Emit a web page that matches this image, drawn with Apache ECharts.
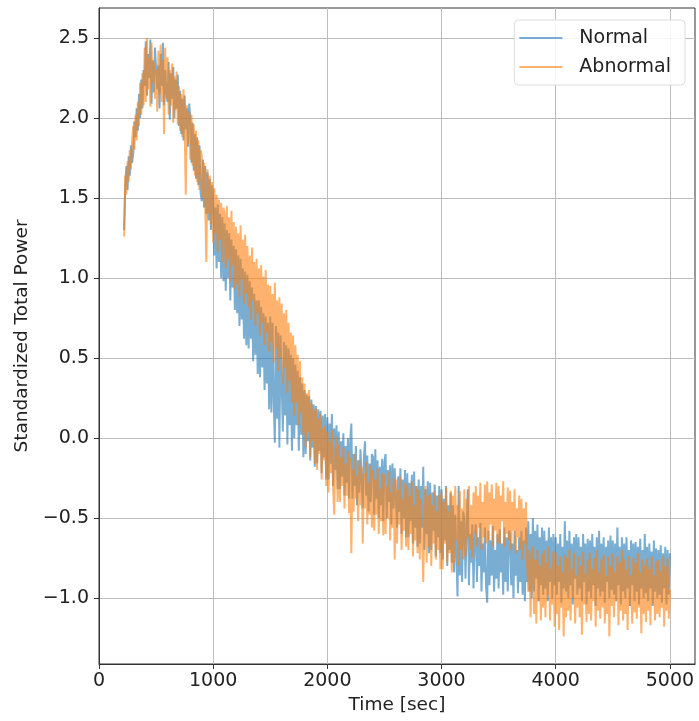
<!DOCTYPE html>
<html>
<head>
<meta charset="utf-8">
<script src="https://cdn.jsdelivr.net/npm/echarts@6/dist/echarts.min.js"></script>
<style>
  html, body { margin: 0; padding: 0; background: #fff; }
  #chart { width: 699px; height: 721px; }
</style>
</head>
<body>
<div id="chart"></div>
<script>
// Sampling of both recordings: first sample time and step, in seconds
const T0 = 220;
const DT = 10;

// Standardized total power, one value every DT seconds from T0 to 5000 s
const normalPower = [
  1.30, 1.58, 1.70, 1.55, 1.76, 1.64, 1.83, 1.72,
  1.78, 1.98, 1.88, 2.06, 1.92, 2.15, 2.00, 2.24, 2.06, 2.30,
  2.20, 2.48, 2.14, 2.40, 2.25, 2.49, 2.09, 2.36, 2.16, 2.44,
  2.45, 2.18, 2.33, 2.06, 2.40, 2.20, 2.47, 2.08, 2.30, 2.16,
  2.10, 2.35, 1.99, 2.28, 2.12, 2.32, 2.00, 2.24, 2.06, 2.27,
  1.95, 2.17, 1.90, 2.12, 1.86, 2.14, 1.93, 2.06, 1.82, 2.09,
  2.00, 1.72, 1.97, 1.67, 1.90, 1.62, 1.88, 1.58, 1.83, 1.53,
  1.48, 1.74, 1.44, 1.70, 1.40, 1.66, 1.36, 1.62, 1.30, 1.58,
  1.48, 1.14, 1.44, 1.06, 1.46, 1.10, 1.40, 1.00, 1.38, 0.98,
  1.34, 0.92, 1.30, 1.00, 1.28, 0.86, 1.24, 0.94, 1.20, 0.80,
  1.18, 0.78, 1.14, 0.70, 1.12, 0.74, 1.06, 0.62, 1.04, 0.58,
  1.02, 0.56, 0.98, 0.62, 0.94, 0.48, 0.90, 0.52, 0.86, 0.40,
  0.86, 0.38, 0.82, 0.44, 0.78, 0.30, 0.76, 0.34, 0.72, 0.18,
  0.76, 0.16, 0.72, 0.24, -0.03, 0.70, 0.12, 0.66, -0.06, 0.64,
  0.64, 0.04, 0.60, 0.14, 0.58, -0.04, 0.56, 0.08, 0.52, -0.08,
  0.50, 0.00, 0.46, 0.08, 0.42, -0.08, 0.38, 0.02, 0.34, -0.12,
  0.30, -0.10, 0.27, -0.02, 0.26, -0.14, 0.24, -0.06, 0.21, -0.18,
  0.20, -0.16, 0.18, -0.08, 0.17, -0.22, 0.14, -0.12, 0.15, -0.26,
  0.13, -0.26, 0.09, -0.16, 0.15, -0.30, 0.06, -0.20, 0.08, -0.32,
  0.04, -0.32, -0.02, -0.24, 0.03, -0.36, -0.05, -0.28, 0.00, -0.38,
  -0.02, 0.09, -0.38, -0.10, -0.30, -0.05, -0.42, -0.14, -0.34, -0.07,
  -0.08, -0.44, -0.12, -0.02, -0.36, -0.11, -0.46, -0.16, -0.40, -0.10,
  -0.12, -0.48, -0.07, -0.38, -0.14, -0.50, -0.18, -0.42, -0.13, -0.52,
  -0.15, -0.10, -0.50, -0.20, -0.40, -0.17, -0.54, -0.16, -0.44, -0.19,
  -0.18, -0.56, -0.24, -0.46, -0.19, -0.60, -0.26, -0.50, -0.20, -0.62,
  -0.22, -0.62, -0.28, -0.52, -0.23, -0.66, -0.21, -0.56, -0.30, -0.68,
  -0.26, -0.66, -0.30, -0.56, -0.18, -0.70, -0.32, -0.60, -0.27, -0.72,
  -0.28, -0.70, -0.34, -0.58, -0.29, -0.74, -0.36, -0.62, -0.30, -0.72,
  -0.32, -0.76, -0.38, -0.64, -0.30, -0.80, -0.42, -0.70, -0.34, -0.78,
  -0.42, -0.84, -0.48, -0.72, -0.99, -0.30, -0.86, -0.52, -0.90, -0.46,
  -0.52, -0.88, -0.56, -0.32, -0.92, -0.60, -0.78, -0.54, -0.94, -0.62,
  -0.54, -0.90, -0.62, -0.80, -0.53, -0.96, -0.66, -0.84, -0.56, -0.93,
  -1.03, -0.58, -0.92, -0.64, -0.86, -0.55, -0.96, -0.70, -0.88, -0.60,
  -0.94, -0.57, -0.84, -0.66, -0.98, -0.56, -0.90, -0.62, -0.96, -0.58,
  -0.60, -0.92, -0.66, -1.00, -0.58, -0.86, -0.70, -0.97, -0.62, -0.90,
  -0.58, -0.98, -0.64, -1.02, -0.56, -0.90, -0.52, -0.96, -0.60, -1.00,
  -0.50, -0.96, -0.58, -0.88, -0.54, -1.02, -0.62, -0.92, -0.56, -0.98,
  -0.58, -0.94, -0.64, -1.02, -0.56, -0.90, -0.62, -1.00, -0.60, -0.92,
  -0.62, -0.98, -0.66, -0.90, -0.60, -1.03, -0.68, -0.94, -0.52, -0.96,
  -0.64, -1.00, -0.58, -0.92, -0.66, -1.04, -0.62, -0.88, -0.60, -0.98,
  -0.62, -0.94, -0.68, -1.02, -0.60, -0.90, -0.66, -1.04, -0.63, -0.96,
  -0.64, -1.00, -0.60, -0.92, -0.68, -1.05, -0.62, -0.94, -0.58, -0.99,
  -0.66, -0.96, -0.62, -1.03, -0.68, -0.90, -0.64, -1.00, -0.61, -0.95,
  -0.64, -0.98, -0.66, -1.02, -0.56, -0.92, -0.68, -1.04, -0.62, -0.96,
  -0.66, -1.00, -0.62, -0.94, -0.70, -1.05, -0.64, -0.92, -0.66, -1.02,
  -0.65, -0.96, -0.68, -1.04, -0.63, -0.94, -0.70, -1.00, -0.60, -0.97,
  -0.68, -1.02, -0.66, -0.94, -0.71, -1.05, -0.64, -0.96, -0.69, -1.00,
  -0.70, -0.98, -0.67, -1.03, -0.72, -0.94, -0.68, -1.04, -0.70, -0.98,
  -0.72
];

const abnormalPower = [
  1.26, 1.64, 1.52, 1.73, 1.60, 1.80, 1.68, 1.86,
  1.95, 1.80, 2.02, 1.86, 2.10, 1.95, 2.22, 2.02, 2.28, 2.08,
  2.44, 2.10, 2.50, 2.18, 2.38, 2.07, 2.47, 2.22, 2.35, 2.12,
  2.30, 2.04, 2.42, 2.15, 2.46, 2.10, 2.36, 1.90, 2.44, 2.12,
  2.38, 2.02, 2.30, 2.08, 2.34, 1.97, 2.26, 2.05, 2.29, 1.96,
  2.20, 1.92, 2.15, 1.88, 2.18, 1.95, 1.52, 2.08, 1.84, 2.04,
  1.74, 2.02, 1.70, 1.96, 1.64, 1.92, 1.60, 1.86, 1.55, 1.80,
  1.76, 1.50, 1.72, 1.46, 1.10, 1.68, 1.40, 1.64, 1.34, 1.60,
  1.22, 1.56, 1.28, 1.52, 1.16, 1.49, 1.24, 1.47, 1.10, 1.44,
  1.40, 1.06, 1.45, 1.12, 1.38, 0.98, 1.42, 1.08, 1.35, 0.93,
  1.32, 0.96, 1.28, 0.88, 1.33, 0.99, 1.24, 0.84, 1.27, 0.90,
  1.20, 0.82, 1.14, 0.74, 1.19, 0.86, 1.10, 0.70, 1.12, 0.78,
  1.06, 0.64, 1.08, 0.72, 1.01, 0.58, 1.05, 0.66, 0.96, 0.54,
  0.95, 0.60, 0.90, 0.47, 0.97, 0.56, 0.86, 0.42, 0.88, 0.50,
  0.84, 0.34, 0.78, 0.44, 0.80, 0.28, 0.72, 0.36, 0.66, 0.22,
  0.64, 0.14, 0.58, 0.22, 0.52, 0.08, 0.48, 0.16, 0.38, 0.02,
  0.34, -0.06, 0.28, 0.04, 0.30, -0.12, 0.22, -0.02, 0.18, -0.16,
  0.18, -0.20, 0.12, -0.10, 0.15, -0.26, 0.06, -0.14, 0.08, -0.30,
  0.04, -0.34, -0.02, -0.22, 0.05, -0.30, -0.48, -0.10, 0.01, -0.40,
  -0.04, -0.40, -0.12, -0.30, -0.06, -0.44, -0.16, -0.36, -0.08, -0.47,
  -0.12, -0.72, -0.20, -0.46, -0.10, -0.38, -0.24, -0.52, -0.14, -0.42,
  -0.18, -0.66, -0.22, -0.44, -0.15, -0.54, -0.28, -0.48, -0.17, -0.56,
  -0.20, -0.58, -0.26, -0.48, -0.19, -0.60, -0.32, -0.52, -0.22, -0.61,
  -0.23, -0.60, -0.30, -0.50, -0.21, -0.64, -0.34, -0.56, -0.25, -0.76,
  -0.26, -0.66, -0.32, -0.54, -0.24, -0.70, -0.38, -0.58, -0.28, -0.68,
  -0.29, -0.70, -0.36, -0.60, -0.27, -0.74, -0.42, -0.64, -0.30, -0.72,
  -0.32, -0.76, -0.38, -0.64, -0.90, -0.44, -0.30, -0.78, -0.36, -0.68,
  -0.35, -0.80, -0.42, -0.66, -0.33, -0.76, -0.46, -0.70, -0.36, -0.82,
  -0.34, -0.82, -0.40, -0.66, -0.31, -0.78, -0.46, -0.72, -0.33, -0.84,
  -0.36, -0.78, -0.30, -0.64, -0.42, -0.80, -0.33, -0.70, -0.44, -0.76,
  -0.32, -0.74, -0.38, -0.62, -0.30, -0.70, -0.42, -0.75, -0.34, -0.60,
  -0.30, -0.68, -0.36, -0.56, -0.28, -0.70, -0.40, -0.62, -0.29, -0.66,
  -0.27, -0.64, -0.34, -0.54, -0.29, -0.68, -0.38, -0.58, -0.28, -0.66,
  -0.30, -0.66, -0.36, -0.52, -0.27, -0.68, -0.40, -0.60, -0.31, -0.64,
  -0.33, -0.70, -0.40, -0.58, -0.32, -0.72, -0.44, -0.62, -0.36, -0.70,
  -0.38, -0.76, -0.44, -0.66, -0.40, -0.78, -0.96, -0.70, -1.12, -0.74,
  -0.68, -1.10, -0.76, -1.16, -0.70, -1.02, -0.80, -1.14, -0.72, -1.06,
  -0.70, -1.12, -0.78, -0.98, -0.68, -1.14, -0.82, -1.04, -0.71, -1.18,
  -0.72, -1.10, -0.80, -1.20, -0.74, -1.06, -0.84, -1.24, -0.73, -1.12,
  -0.75, -1.08, -0.70, -1.14, -0.82, -1.00, -0.72, -1.16, -0.86, -1.06,
  -0.74, -1.12, -0.80, -1.23, -0.71, -1.04, -0.85, -1.15, -0.76, -1.10,
  -0.72, -1.14, -0.82, -1.02, -0.75, -1.18, -0.70, -1.08, -0.84, -1.13,
  -0.76, -1.06, -0.73, -1.16, -0.86, -1.10, -0.74, -1.24, -0.80, -1.05,
  -0.72, -1.12, -0.84, -1.02, -0.74, -1.17, -0.78, -1.08, -0.70, -1.14,
  -0.76, -1.10, -0.82, -1.20, -0.74, -1.05, -0.86, -1.16, -0.75, -1.09,
  -0.78, -1.13, -0.72, -1.06, -0.84, -1.22, -0.76, -1.10, -0.80, -1.15,
  -0.75, -1.08, -0.82, -1.17, -0.74, -1.04, -0.86, -1.14, -0.77, -1.10,
  -0.76, -1.12, -0.83, -1.06, -0.74, -1.18, -0.80, -1.08, -0.75, -1.13,
  -0.95
];

// Tick positions on both axes
const timeTicks = [0, 1000, 2000, 3000, 4000, 5000];
const powerTicks = [-1.0, -0.5, 0.0, 0.5, 1.0, 1.5, 2.0, 2.5];

const seriesNames = ['Normal', 'Abnormal'];
const FONT = 'DejaVu Sans';

function toPairs(values) {
  return values.map((v, i) => [T0 + i * DT, v]);
}

function fmtPower(v) {
  const s = Math.abs(v).toFixed(1);
  return v < 0 ? '\u2212' + s : s;
}

const chart = echarts.init(document.getElementById('chart'), null, { renderer: 'canvas' });

chart.setOption({
  animation: false,
  backgroundColor: '#ffffff',
  grid: {
    left: 99, right: 4, top: 8, bottom: 57,
    show: true, borderColor: '#333333', borderWidth: 1, backgroundColor: 'transparent'
  },
  legend: {
    orient: 'vertical',
    right: 14, top: 20,
    width: 173,
    padding: [8, 14, 8, 5],
    backgroundColor: 'rgba(255,255,255,0.85)',
    borderColor: '#dddddd', borderWidth: 1, borderRadius: 4,
    icon: 'rect',
    itemWidth: 43, itemHeight: 2, itemGap: 9,
    textStyle: { fontFamily: FONT, fontSize: 19, color: '#222222', lineHeight: 20, padding: [0, 0, 0, 12] },
    data: [
      { name: seriesNames[0], itemStyle: { color: 'rgba(31,119,180,0.6)' } },
      { name: seriesNames[1], itemStyle: { color: 'rgba(255,127,14,0.6)' } }
    ]
  },
  xAxis: {
    type: 'value',
    min: 0, max: 5220,
    name: 'Time [sec]',
    nameLocation: 'middle',
    nameGap: 26,
    nameTextStyle: { fontFamily: FONT, fontSize: 18.5, color: '#222222' },
    axisLine: { show: true, onZero: false, lineStyle: { color: '#333333', width: 1 } },
    axisTick: { show: true, inside: false, length: 5, customValues: timeTicks, lineStyle: { color: '#333333' } },
    axisLabel: { customValues: timeTicks, margin: 8, fontFamily: FONT, fontSize: 19, color: '#222222', formatter: v => String(v) },
    splitLine: { show: true, lineStyle: { color: '#bdbdbd', width: 1 } }
  },
  yAxis: {
    type: 'value',
    min: -1.4125, max: 2.6875,
    name: 'Standardized Total Power',
    nameLocation: 'middle',
    nameGap: 67,
    nameTextStyle: { fontFamily: FONT, fontSize: 18.5, color: '#222222' },
    axisLine: { show: true, onZero: false, lineStyle: { color: '#333333', width: 1 } },
    axisTick: { show: true, inside: false, length: 5, customValues: powerTicks, lineStyle: { color: '#333333' } },
    axisLabel: { customValues: powerTicks, margin: 10, fontFamily: FONT, fontSize: 19, color: '#222222', formatter: fmtPower },
    splitLine: { show: true, lineStyle: { color: '#bdbdbd', width: 1 } }
  },
  series: [
    {
      name: seriesNames[0],
      type: 'line',
      data: toPairs(normalPower),
      showSymbol: false, symbol: 'none', silent: true, sampling: false,
      color: '#1f77b4',
      lineStyle: { color: '#1f77b4', width: 2, opacity: 0.6 },
      z: 2
    },
    {
      name: seriesNames[1],
      type: 'line',
      data: toPairs(abnormalPower),
      showSymbol: false, symbol: 'none', silent: true, sampling: false,
      color: '#ff7f0e',
      lineStyle: { color: '#ff7f0e', width: 2, opacity: 0.6 },
      z: 3
    }
  ]
});
</script>
</body>
</html>
